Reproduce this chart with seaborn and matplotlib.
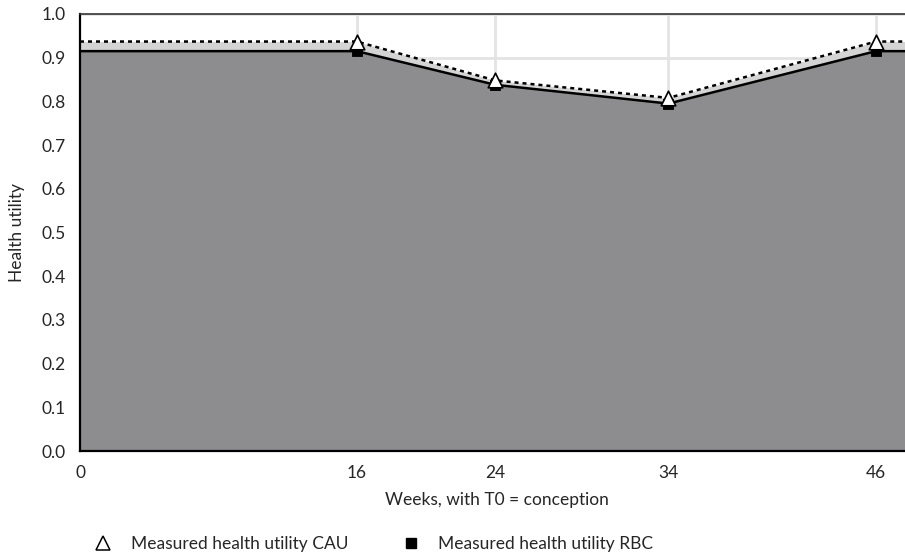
import matplotlib
matplotlib.use("Agg")
import matplotlib.pyplot as plt
import seaborn as sns
import pandas as pd
from matplotlib.lines import Line2D

# Measurement weeks (T0 = conception) and health utility per arm
weeks = [0, 16, 24, 34, 46, 48]
marker_weeks = [16, 24, 34, 46]
utility_cau = [0.937, 0.937, 0.848, 0.808, 0.937, 0.937]
utility_rbc = [0.915, 0.915, 0.838, 0.795, 0.915, 0.915]
x_ticks = [0, 16, 24, 34, 46]
y_ticks = [0.0, 0.1, 0.2, 0.3, 0.4, 0.5, 0.6, 0.7, 0.8, 0.9, 1.0]

sns.set_style("white")
plt.rcParams["font.family"] = ["Lato", "DejaVu Sans"]

df = pd.DataFrame({"week": weeks, "CAU": utility_cau, "RBC": utility_rbc})
pts = df[df["week"].isin(marker_weeks)]

fig = plt.figure(figsize=(9.05, 5.53), dpi=100)
ax = fig.add_axes([80 / 905, 1 - 451 / 553, (905 - 80) / 905 + 0.01, (451 - 14) / 553])

# light grid behind the areas
for x in x_ticks[1:]:
    ax.axvline(x, color="#e3e3e3", lw=2, zorder=0)
for y in y_ticks:
    ax.axhline(y, color="#e3e3e3", lw=2, zorder=0)

# shaded areas: below RBC dark, between RBC and CAU light
ax.fill_between(df["week"], 0, df["RBC"], color="#8d8d8f", lw=0, zorder=1)
ax.fill_between(df["week"], df["RBC"], df["CAU"], color="#d4d4d4", lw=0, zorder=1)

sns.lineplot(data=df, x="week", y="RBC", ax=ax, color="black", lw=1.8, zorder=3)
sns.lineplot(data=df, x="week", y="CAU", ax=ax, color="black", lw=1.8,
             linestyle=(0, (1.6, 1.6)), zorder=3)
sns.scatterplot(data=pts, x="week", y="RBC", ax=ax, marker="s", s=60,
                color="black", edgecolor="black", zorder=4)
sns.scatterplot(data=pts, x="week", y="CAU", ax=ax, marker="^", s=110,
                facecolor="white", edgecolor="black", linewidth=1.2, zorder=5)

ax.set_xlim(0, 48.2)
ax.set_ylim(0, 1.0)
ax.set_xticks(x_ticks)
ax.set_yticks(y_ticks)
ax.set_yticklabels([f"{v:.1f}" for v in y_ticks])
ax.tick_params(axis="both", direction="out", length=6, width=1.5, color="black",
               labelsize=12.5)
ax.tick_params(axis="x", pad=4)
ax.tick_params(axis="y", pad=4)
ax.set_xlabel("Weeks, with T0 = conception", fontsize=12.5, labelpad=8)
ax.set_ylabel("Health utility", fontsize=12.5, labelpad=12)

for side in ["left", "bottom"]:
    ax.spines[side].set_color("black")
    ax.spines[side].set_linewidth(1.6)
ax.spines["top"].set_color("#333333")
ax.spines["top"].set_linewidth(1.2)
ax.spines["right"].set_visible(False)

handles = [
    Line2D([], [], marker="^", linestyle="none", markerfacecolor="white",
           markeredgecolor="black", markersize=10, markeredgewidth=1.1),
    Line2D([], [], marker="s", linestyle="none", color="black", markersize=7),
]
fig.legend(handles, ["Measured health utility CAU", "Measured health utility RBC"],
           loc="center left", bbox_to_anchor=(70 / 905, 1 - 544 / 553), ncol=2,
           frameon=False, fontsize=12.5, handletextpad=0.6, columnspacing=2.6)

fig.savefig("out.png", dpi=100)
